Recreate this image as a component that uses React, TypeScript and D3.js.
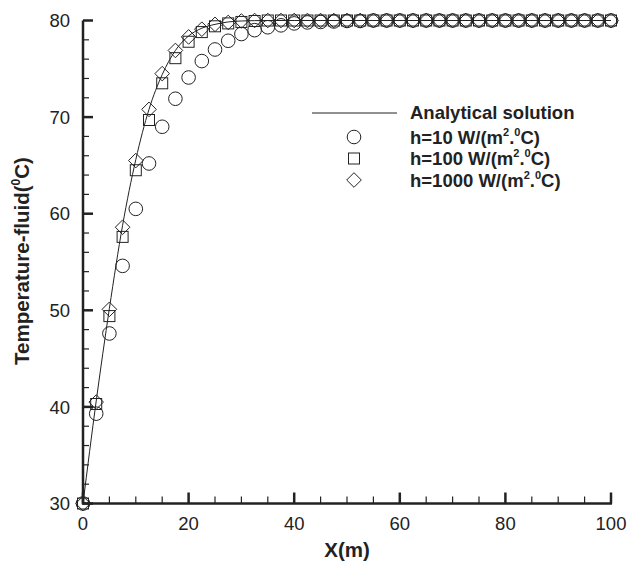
import React from "react";
import * as d3 from "d3";

// x positions of the markers (m)
const xs = [
  0, 2.5, 5, 7.5, 10, 12.5, 15, 17.5, 20, 22.5, 25, 27.5, 30, 32.5, 35, 37.5, 40,
  42.5, 45, 47.5, 50, 52.5, 55, 57.5, 60, 62.5, 65, 67.5, 70, 72.5, 75, 77.5, 80,
  82.5, 85, 87.5, 90, 92.5, 95, 97.5, 100,
];

// h = 10 W/(m2.C)
const h10 = [
  30, 39.3, 47.6, 54.6, 60.5, 65.2, 69.0, 71.9, 74.1, 75.8, 77.0, 77.9, 78.6, 79.0,
  79.3, 79.5, 79.7, 79.8, 79.85, 79.9, 79.95, 79.95, 80, 80, 80, 80, 80, 80, 80, 80,
  80, 80, 80, 80, 80, 80, 80, 80, 80, 80, 80,
];

// h = 100 W/(m2.C)
const h100 = [
  30, 40.3, 49.4, 57.6, 64.5, 69.7, 73.5, 76.1, 77.8, 78.8, 79.4, 79.7, 79.85,
  79.95, 80, 80, 80, 80, 80, 80, 80, 80, 80, 80, 80, 80, 80, 80, 80, 80, 80, 80, 80,
  80, 80, 80, 80, 80, 80, 80, 80,
];

// h = 1000 W/(m2.C)
const h1000 = [
  30, 40.5, 50.1, 58.6, 65.5, 70.8, 74.5, 76.9, 78.3, 79.1, 79.6, 79.8, 79.95, 80,
  80, 80, 80, 80, 80, 80, 80, 80, 80, 80, 80, 80, 80, 80, 80, 80, 80, 80, 80, 80, 80,
  80, 80, 80, 80, 80, 80,
];

// analytical solution
const anaX = [0, 2.5, 5, 7.5, 10, 12.5, 15, 17.5, 20, 22.5, 25, 27.5, 30, 35, 40, 100];
const anaY = [30, 40.6, 50.2, 58.8, 65.6, 70.8, 74.4, 76.9, 78.4, 79.2, 79.6, 79.85, 79.95, 80, 80, 80];

const xTicks = [0, 20, 40, 60, 80, 100];
const yTicks = [30, 40, 50, 60, 70, 80];

const legendRows = ["10", "100", "1000"];

const W = 627;
const H = 562;
const ink = "#222";

export default function App() {
  const x = d3.scaleLinear().domain([0, 100]).range([83, 611]);
  const y = d3.scaleLinear().domain([30, 80]).range([503.5, 20.5]);

  const line = d3
    .line<number>()
    .x((d, i) => x(anaX[i]))
    .y((d) => y(d))
    .curve(d3.curveMonotoneX);

  const xMinor = d3.range(0, 100.01, 5).filter((v) => v % 20 !== 0);
  const yMinor = d3.range(30, 80.01, 2).filter((v) => v % 10 !== 0);

  const circle = (cx: number, cy: number, k: string) => (
    <circle key={k} cx={cx} cy={cy} r={6.8} fill="none" stroke={ink} strokeWidth={1} />
  );
  const square = (cx: number, cy: number, k: string) => (
    <rect key={k} x={cx - 5.5} y={cy - 5.5} width={11} height={11} fill="none" stroke={ink} strokeWidth={1} />
  );
  const diamond = (cx: number, cy: number, k: string) => (
    <path
      key={k}
      d={`M${cx},${cy - 7.3}L${cx + 7.3},${cy}L${cx},${cy + 7.3}L${cx - 7.3},${cy}Z`}
      fill="none"
      stroke={ink}
      strokeWidth={1}
    />
  );

  const font = "Liberation Sans, Arial, sans-serif";

  return (
    <svg
      width={W}
      height={H}
      style={{ position: "absolute", left: 0, top: 0, background: "#fff" }}
      fontFamily={font}
    >
      {/* data */}
      <path d={line(anaY) || ""} fill="none" stroke={ink} strokeWidth={1} />
      {xs.map((v, i) => circle(x(v), y(h10[i]), "c" + i))}
      {xs.map((v, i) => square(x(v), y(h100[i]), "s" + i))}
      {xs.map((v, i) => diamond(x(v), y(h1000[i]), "d" + i))}

      {/* axes */}
      <line x1={x(0)} x2={x(0)} y1={y(30) + 1} y2={y(80)} stroke={ink} strokeWidth={2.5} />
      <line x1={x(0) - 1} x2={x(100) + 1} y1={y(30)} y2={y(30)} stroke={ink} strokeWidth={2.5} />
      {yTicks.map((t) => (
        <g key={"yt" + t}>
          <line x1={x(0)} x2={x(0) + 10} y1={y(t)} y2={y(t)} stroke={ink} strokeWidth={2.5} />
          <text x={x(0) - 13} y={y(t)} dy="0.36em" textAnchor="end" fontSize={18.5} fill={ink}>
            {t}
          </text>
        </g>
      ))}
      {yMinor.map((t) => (
        <line key={"ym" + t} x1={x(0)} x2={x(0) + 6} y1={y(t)} y2={y(t)} stroke={ink} strokeWidth={1.2} />
      ))}
      {xTicks.map((t) => (
        <g key={"xt" + t}>
          <line x1={x(t)} x2={x(t)} y1={y(30)} y2={y(30) - 11} stroke={ink} strokeWidth={2.5} />
          <text x={x(t)} y={530} textAnchor="middle" fontSize={18.5} fill={ink}>
            {t}
          </text>
        </g>
      ))}
      {xMinor.map((t) => (
        <line key={"xm" + t} x1={x(t)} x2={x(t)} y1={y(30)} y2={y(30) - 7} stroke={ink} strokeWidth={1.2} />
      ))}

      {/* axis titles */}
      <text x={347} y={557} textAnchor="middle" fontSize={20.5} fontWeight="bold" fill={ink}>
        X(m)
      </text>
      <text
        transform="translate(29,261) rotate(-90)"
        textAnchor="middle"
        fontSize={20.5}
        fontWeight="bold"
        fill={ink}
      >
        Temperature-fluid(
        <tspan fontSize={12} dy={-9}>0</tspan>
        <tspan dy={9}>C)</tspan>
      </text>

      {/* legend */}
      <line x1={312} x2={397} y1={113} y2={113} stroke={ink} strokeWidth={1} />
      <text x={410} y={119} fontSize={18.5} fontWeight="bold" fill={ink}>
        Analytical solution
      </text>
      {legendRows.map((h, i) => {
        const cy = 137 + i * 21.5;
        const mk = i === 0 ? circle(354, cy, "lc") : i === 1 ? square(354, cy, "ls") : diamond(354, cy, "ld");
        return (
          <g key={"lg" + h}>
            {mk}
            <text x={410} y={cy + 6.5} fontSize={18.5} fontWeight="bold" fill={ink}>
              {`h=${h} W/(m`}
              <tspan fontSize={11} dy={-8}>2</tspan>
              <tspan dy={8}>.</tspan>
              <tspan fontSize={11} dy={-8}>0</tspan>
              <tspan dy={8}>C)</tspan>
            </text>
          </g>
        );
      })}
    </svg>
  );
}
